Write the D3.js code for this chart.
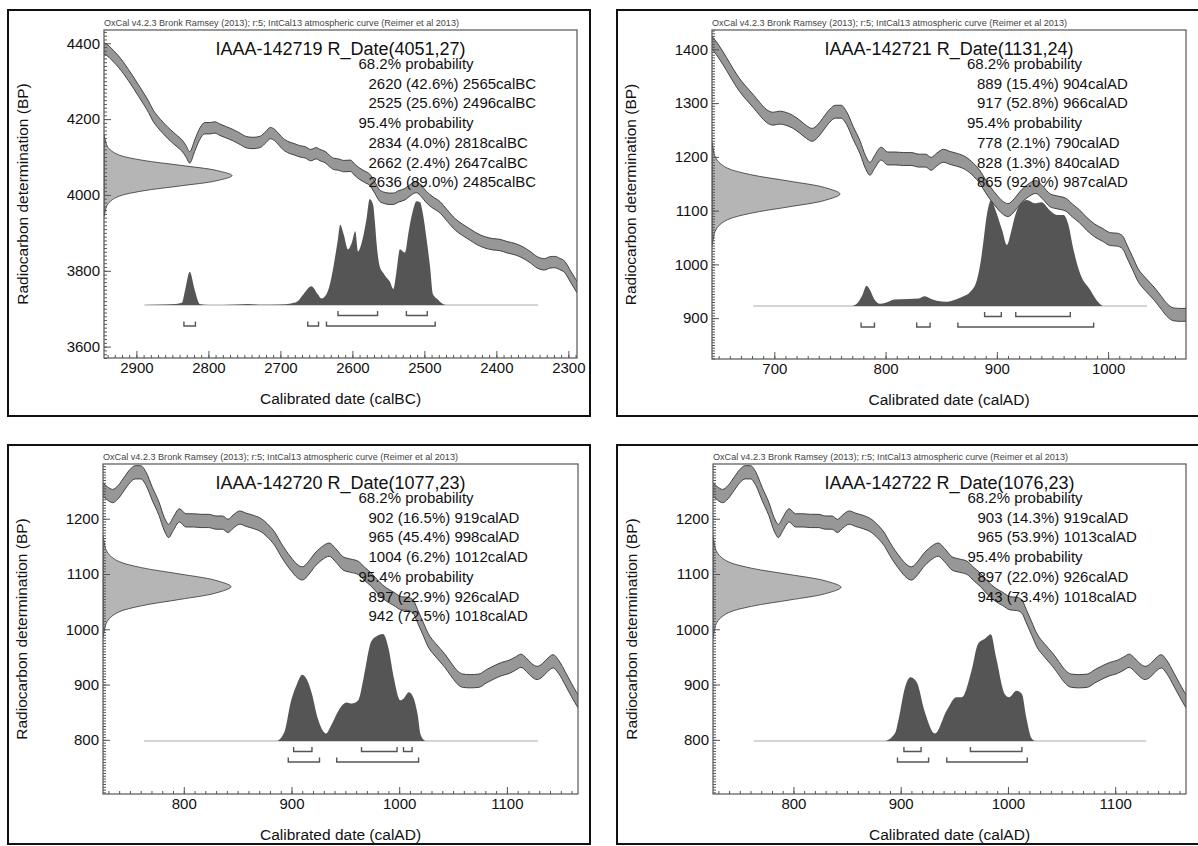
<!DOCTYPE html>
<html>
<head>
<meta charset="utf-8">
<script src="https://cdn.jsdelivr.net/npm/d3@7"></script>
<style>
  body { margin: 0; background: #fff; }
  svg { display: block; font-family: "Liberation Sans", Arial, sans-serif; }
</style>
</head>
<body>
<svg width="1198" height="846"></svg>
<script>
///////////// data /////////////
const headerText = "OxCal v4.2.3 Bronk Ramsey (2013); r:5; IntCal13 atmospheric curve (Reimer et al 2013)";
const titles = [
  "IAAA-142719 R_Date(4051,27)",
  "IAAA-142721 R_Date(1131,24)",
  "IAAA-142720 R_Date(1077,23)",
  "IAAA-142722 R_Date(1076,23)"
];
// [mean BP, error]
const rDates = [[4051, 27], [1131, 24], [1077, 23], [1076, 23]];
const eraLabels = ["calBC", "calAD", "calAD", "calAD"];

// shape of the plotted radiocarbon date: [offset in errors, relative width]
const rDateShape = [
  [-4, 0], [-3.5, 0.01], [-3, 0.02], [-2.5, 0.05], [-2, 0.12], [-1.5, 0.3],
  [-1, 0.6], [-0.5, 0.88], [0, 1], [0.5, 0.88], [1, 0.6], [1.5, 0.3],
  [2, 0.12], [2.5, 0.05], [3, 0.02], [3.5, 0.01], [4, 0]
];

// IntCal13 curve, BC part: [year calBC, BP]
const curveBC = [
  [2945, 4387], [2938, 4378], [2932, 4366], [2925, 4352], [2918, 4335], [2911, 4316],
  [2904, 4296], [2897, 4275], [2890, 4254], [2883, 4232], [2877, 4210], [2870, 4192],
  [2863, 4177], [2856, 4163], [2849, 4151], [2843, 4141], [2837, 4131], [2831, 4115],
  [2826, 4099], [2819, 4130], [2812, 4161], [2805, 4176], [2798, 4176], [2791, 4178],
  [2784, 4172], [2775, 4165], [2765, 4157], [2756, 4148], [2747, 4139], [2738, 4137],
  [2728, 4140], [2720, 4153], [2714, 4163], [2708, 4158], [2702, 4146], [2696, 4134],
  [2688, 4125], [2680, 4120], [2673, 4115], [2665, 4112], [2658, 4105], [2650, 4110],
  [2645, 4105], [2638, 4100], [2632, 4090], [2626, 4082], [2619, 4080], [2612, 4076],
  [2603, 4077], [2596, 4065], [2590, 4056], [2583, 4048], [2576, 4040], [2569, 4020],
  [2562, 3998], [2555, 3992], [2549, 3990], [2543, 3990], [2536, 3996], [2527, 4002],
  [2518, 4015], [2511, 4021], [2504, 4010], [2497, 3994], [2488, 3980], [2478, 3967],
  [2468, 3945], [2457, 3922], [2447, 3908], [2437, 3896], [2427, 3884], [2416, 3875],
  [2405, 3870], [2395, 3868], [2385, 3862], [2374, 3857], [2363, 3848], [2353, 3836],
  [2343, 3822], [2333, 3817], [2326, 3822], [2319, 3823], [2312, 3818], [2305, 3810],
  [2297, 3785], [2288, 3757]
];
const curveBCError = 15;

// IntCal13 curve, AD part: [year calAD, BP]
const curveAD = [
  [640, 1420], [645, 1410], [650, 1396], [657, 1373], [663, 1352], [669, 1333],
  [675, 1318], [681, 1304], [687, 1289], [693, 1276], [699, 1271], [705, 1273],
  [710, 1271], [716, 1266], [723, 1256], [729, 1246], [734, 1241], [739, 1248],
  [745, 1264], [750, 1277], [755, 1284], [760, 1284], [765, 1272], [771, 1244],
  [777, 1218], [782, 1190], [786, 1178], [790, 1190], [796, 1206], [802, 1197],
  [809, 1197], [816, 1196], [823, 1196], [830, 1193], [836, 1193], [841, 1187],
  [846, 1195], [852, 1202], [858, 1198], [865, 1194], [872, 1188], [879, 1176],
  [885, 1162], [890, 1145], [895, 1130], [900, 1117], [905, 1106], [910, 1101],
  [916, 1111], [921, 1124], [928, 1137], [935, 1144], [941, 1134], [948, 1119],
  [955, 1115], [962, 1111], [968, 1100], [974, 1090], [981, 1075], [988, 1063],
  [995, 1055], [1002, 1047], [1008, 1046], [1013, 1041], [1017, 1024], [1022, 1002],
  [1027, 980], [1034, 962], [1042, 944], [1048, 928], [1053, 915], [1059, 907],
  [1066, 906], [1074, 907], [1081, 915], [1088, 922], [1095, 928], [1102, 932],
  [1108, 938], [1113, 943], [1118, 936], [1123, 926], [1128, 921], [1133, 926],
  [1138, 936], [1143, 942], [1148, 932], [1155, 908], [1160, 890], [1166, 870],
  [1170, 860]
];
const curveADError = 12;

// calibrated (posterior) distributions: [year, relative probability 0-100]
const post1 = [
  [2889, 0], [2860, 0.5], [2845, 1], [2837, 2], [2832, 15], [2826, 31], [2819, 14],
  [2812, 1], [2800, 0], [2760, 0.5], [2745, 1], [2730, 0.3], [2700, 0.5], [2685, 1.5],
  [2677, 3], [2668, 10], [2657, 17.5], [2648, 10], [2643, 6], [2636, 10], [2631, 20],
  [2626, 37], [2620, 62], [2617, 75], [2612, 66], [2606, 52], [2601, 58], [2596, 69],
  [2592, 50], [2588, 56], [2585, 64], [2580, 82], [2576, 99], [2571, 93], [2569, 80],
  [2566, 55], [2562, 36], [2557, 30], [2553, 26], [2548, 22], [2543, 15], [2539, 30],
  [2534, 52], [2530, 50], [2527, 49], [2522, 68], [2516, 88], [2511, 97], [2506, 96],
  [2502, 85], [2497, 62], [2492, 35], [2488, 10], [2481, 5], [2474, 1], [2470, 0]
];
const post2 = [
  [770, 0], [775, 3], [779, 10], [783, 19], [786, 15], [790, 6], [795, 2], [800, 3],
  [808, 6], [820, 6.5], [830, 7], [835, 9], [840, 7], [846, 5], [855, 4], [863, 6],
  [870, 9], [876, 13], [882, 24], [886, 45], [888, 61], [891, 85], [895, 99], [898, 92],
  [901, 83], [905, 70], [909, 57], [913, 70], [916, 83], [921, 95], [927, 99], [934, 96],
  [940, 97], [948, 89], [954, 85], [960, 85], [964, 77], [969, 52], [975, 30], [984, 15],
  [990, 5], [995, 0]
];
const post3 = [
  [887, 0], [891, 4], [894, 10], [899, 35], [905, 53], [910, 62], [914, 58], [919, 44],
  [924, 22.5], [930, 8.5], [932, 7], [937, 15], [944, 29], [951, 36], [956, 35],
  [962, 38], [967, 59], [974, 93], [979, 98], [985, 100], [990, 87], [995, 59],
  [1001, 38], [1004, 39.5], [1009, 45.5], [1013, 41], [1017, 25.5], [1020, 5.5], [1024, 0]
];
const post4 = [
  [886, 0], [895, 8], [898, 20], [904, 50], [909, 59.5], [915, 55], [922, 28.7],
  [932, 7], [943, 28.7], [952, 41], [957, 41], [966, 65.7], [972, 90.5], [979, 96],
  [984, 99.7], [989, 78], [997, 44], [1001, 41], [1008, 47], [1013, 44], [1017, 22.5],
  [1022, 2.5], [1025, 0]
];
// extent of the flat baseline under each distribution
const baseSpans = [[2889, 2342], [681, 1035], [763, 1129], [763, 1129]];

// ranges: [from, percent, to]
const p68 = [
  [[2620, 42.6, 2565], [2525, 25.6, 2496]],
  [[889, 15.4, 904], [917, 52.8, 966]],
  [[902, 16.5, 919], [965, 45.4, 998], [1004, 6.2, 1012]],
  [[903, 14.3, 919], [965, 53.9, 1013]]
];
const p95 = [
  [[2834, 4.0, 2818], [2662, 2.4, 2647], [2636, 89.0, 2485]],
  [[778, 2.1, 790], [828, 1.3, 840], [865, 92.0, 987]],
  [[897, 22.9, 926], [942, 72.5, 1018]],
  [[897, 22.0, 926], [943, 73.4, 1018]]
];

// axes
const xDomains = [[2945, 2288], [644, 1070], [725, 1166], [725, 1166]];
const yDomains = [[3570, 4435], [824, 1436], [702, 1299], [702, 1299]];
const xTicks = [
  [2900, 2800, 2700, 2600, 2500, 2400, 2300],
  [700, 800, 900, 1000],
  [800, 900, 1000, 1100],
  [800, 900, 1000, 1100]
];
const yTicks = [
  [3600, 3800, 4000, 4200, 4400],
  [900, 1000, 1100, 1200, 1300, 1400],
  [800, 900, 1000, 1100, 1200],
  [800, 900, 1000, 1100, 1200]
];
const yMinorSteps = [10, 5, 5, 5];

///////////// layout /////////////
const layout = [
  { ox: 8, oy: 10, ow: 582, oh: 406, left: 104, top: 30, w: 473, h: 328 },
  { ox: 617, oy: 10, ow: 600, oh: 406, left: 712, top: 30, w: 474, h: 329 },
  { ox: 8, oy: 445, ow: 582, oh: 399, left: 103, top: 464, w: 475, h: 330 },
  { ox: 617, oy: 445, ow: 600, oh: 399, left: 713, top: 464, w: 473, h: 330 }
];
const curves = [curveBC, curveAD, curveAD, curveAD];
const curveErrors = [curveBCError, curveADError, curveADError, curveADError];
const posts = [post1, post2, post3, post4];

const svg = d3.select("svg");
const defs = svg.append("defs");
const fmtPct = d3.format(".1f");

layout.forEach((p, i) => {
  const g = svg.append("g");
  const x = d3.scaleLinear().domain(xDomains[i]).range([p.left, p.left + p.w]);
  const y = d3.scaleLinear().domain(yDomains[i]).range([p.top + p.h, p.top]);

  // outer frame
  g.append("rect")
    .attr("x", p.ox).attr("y", p.oy)
    .attr("width", p.ow).attr("height", p.oh)
    .attr("fill", "none").attr("stroke", "#111").attr("stroke-width", 2);

  defs.append("clipPath").attr("id", "clip" + i)
    .append("rect")
    .attr("x", p.left).attr("y", p.top).attr("width", p.w).attr("height", p.h);
  const plot = g.append("g").attr("clip-path", `url(#clip${i})`);

  // radiocarbon date drawn against the y axis
  const [mean, err] = rDates[i];
  const wScale = d3.scaleLinear().domain([0, 1]).range([p.left, p.left + 128]);
  plot.append("path")
    .datum(rDateShape)
    .attr("d", d3.area()
      .y((d) => y(mean + d[0] * err))
      .x0(p.left)
      .x1((d) => wScale(d[1]))
      .curve(d3.curveCatmullRom))
    .attr("fill", "#b5b5b5").attr("stroke", "#333").attr("stroke-width", 0.8);

  // calibrated distribution
  const baseY = p.top + p.h - 53;
  const hScale = d3.scaleLinear().domain([0, 100]).range([baseY, baseY - 107]);
  plot.append("line")
    .attr("x1", x(baseSpans[i][0])).attr("x2", x(baseSpans[i][1]))
    .attr("y1", baseY).attr("y2", baseY)
    .attr("stroke", "#aaa").attr("stroke-width", 1);
  plot.append("path")
    .datum(posts[i])
    .attr("d", d3.area()
      .x((d) => x(d[0]))
      .y0(baseY)
      .y1((d) => hScale(d[1]))
      .curve(d3.curveMonotoneX))
    .attr("fill", "#555");

  // range brackets
  const bracket = (rows, off) => {
    plot.selectAll(null)
      .data(rows)
      .enter()
      .append("path")
      .attr("d", (d) => {
        const by = baseY + off;
        return `M${x(d[0])},${by - 4.5}V${by}H${x(d[2])}V${by - 4.5}`;
      })
      .attr("fill", "none").attr("stroke", "#555").attr("stroke-width", 1.4);
  };
  bracket(p68[i], 10.5);
  bracket(p95[i], 21);

  // calibration curve band
  const cErr = curveErrors[i];
  const cData = curves[i];
  plot.append("path")
    .datum(cData)
    .attr("d", d3.area()
      .x((d) => x(d[0]))
      .y0((d) => y(d[1] - cErr))
      .y1((d) => y(d[1] + cErr))
      .curve(d3.curveMonotoneX))
    .attr("fill", "#979797");
  [-cErr, cErr].forEach((o) => {
    plot.append("path")
      .datum(cData)
      .attr("d", d3.line()
        .x((d) => x(d[0]))
        .y((d) => y(d[1] + o))
        .curve(d3.curveMonotoneX))
      .attr("fill", "none").attr("stroke", "#333").attr("stroke-width", 0.9);
  });

  // texts
  const cx = p.left + p.w / 2;
  g.append("text")
    .attr("x", p.left).attr("y", p.top - 4)
    .attr("font-size", 8.5).attr("fill", "#444")
    .attr("textLength", 355).attr("lengthAdjust", "spacingAndGlyphs")
    .text(headerText);
  g.append("text")
    .attr("x", cx).attr("y", p.top + 25)
    .attr("text-anchor", "middle").attr("font-size", 18).attr("fill", "#111")
    .text(titles[i]);

  const era = eraLabels[i];
  const rows = [];
  rows.push({ t: "68.2% probability", head: true });
  p68[i].forEach((r) => rows.push({ t: `${r[0]} (${fmtPct(r[1])}%) ${r[2]}${era}` }));
  rows.push({ t: "95.4% probability", head: true });
  p95[i].forEach((r) => rows.push({ t: `${r[0]} (${fmtPct(r[1])}%) ${r[2]}${era}` }));
  g.selectAll(null)
    .data(rows)
    .enter()
    .append("text")
    .attr("x", (d) => (d.head ? cx + 18 : cx + 28))
    .attr("y", (d, k) => p.top + 39 + k * 19.7)
    .attr("font-size", 15).attr("fill", "#111")
    .text((d) => d.t);

  // axes
  const xMin = Math.min(...xDomains[i]), xMax = Math.max(...xDomains[i]);
  const yMin = yDomains[i][0], yMax = yDomains[i][1];
  const ys = yMinorSteps[i];
  g.append("g")
    .attr("transform", `translate(0,${p.top + p.h})`)
    .call(d3.axisBottom(x)
      .tickValues(d3.range(Math.ceil(xMin / 10) * 10, xMax, 10))
      .tickSize(-3).tickFormat(""))
    .call((a) => a.select(".domain").remove());
  g.append("g")
    .attr("transform", `translate(0,${p.top + p.h})`)
    .call(d3.axisBottom(x)
      .tickValues(xTicks[i])
      .tickSize(-7).tickPadding(4).tickFormat(d3.format("d")))
    .call((a) => a.select(".domain").remove())
    .attr("font-size", 15).attr("font-family", null);
  g.append("g")
    .attr("transform", `translate(${p.left},0)`)
    .call(d3.axisLeft(y)
      .tickValues(d3.range(Math.ceil(yMin / ys) * ys, yMax, ys))
      .tickSize(-3).tickFormat(""))
    .call((a) => a.select(".domain").remove());
  g.append("g")
    .attr("transform", `translate(${p.left},0)`)
    .call(d3.axisLeft(y)
      .tickValues(yTicks[i])
      .tickSize(-7).tickPadding(4).tickFormat(d3.format("d")))
    .call((a) => a.select(".domain").remove())
    .attr("font-size", 15).attr("font-family", null);
  g.selectAll(".tick line").attr("stroke", "#555");
  g.selectAll(".tick text").attr("fill", "#111");

  // plot frame
  g.append("rect")
    .attr("x", p.left).attr("y", p.top).attr("width", p.w).attr("height", p.h)
    .attr("fill", "none").attr("stroke", "#555").attr("stroke-width", 1.2);

  // axis titles
  g.append("text")
    .attr("x", cx).attr("y", p.top + p.h + 46)
    .attr("text-anchor", "middle").attr("font-size", 15.5).attr("fill", "#111")
    .text(`Calibrated date (${era})`);
  g.append("text")
    .attr("transform", `translate(${p.left - 82},${p.top + p.h / 2}) rotate(-90)`)
    .attr("text-anchor", "middle").attr("dominant-baseline", "central")
    .attr("font-size", 15.5).attr("fill", "#111")
    .text("Radiocarbon determination (BP)");
});
</script>
</body>
</html>
